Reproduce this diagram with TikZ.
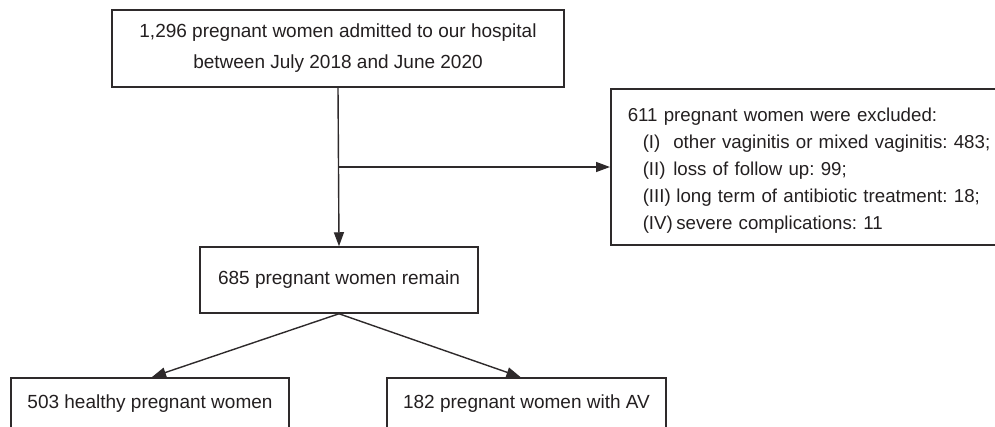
\documentclass[tikz,border=0pt]{standalone}
\usepackage{fontspec}
\setmainfont{Liberation Sans}
\usepackage{tikz}
\usetikzlibrary{arrows.meta,positioning,calc}
\usepackage{xcolor}
\definecolor{inkgray}{HTML}{231F20}
\definecolor{linegray}{HTML}{2E2A2B}
\frenchspacing

\begin{document}
\begin{tikzpicture}[
  x=1pt, y=-1pt,
  >={Triangle[length=14pt,width=10pt]},
  box/.style={draw=linegray, line width=1.5pt, text=inkgray, inner sep=0pt,
              font=\fontsize{19}{27}\selectfont},
  flowarr/.style={->, draw=linegray, line width=1.4pt}
]
  \useasboundingbox (0,0) rectangle (995,426);
  \clip (0,0) rectangle (995,426);

  % --- Boxes ---
  \node[box, minimum width=452pt, minimum height=77pt, align=center,
        font=\fontsize{19}{31}\selectfont] (admit) at (338, 48.5)
       {1,296 pregnant women admitted to our hospital\\between July 2018 and June 2020};
  \node[box, minimum width=278pt, minimum height=66pt] (remain) at (339, 280)
       {685 pregnant women remain};
  \node[box, minimum width=278pt, minimum height=52pt, anchor=north] (healthy) at (150, 377)
       {503 healthy pregnant women};
  \node[box, minimum width=279pt, minimum height=52pt, anchor=north] (avgroup) at (526.5, 377)
       {182 pregnant women with AV};

  % --- Exclusion box (runs past the right edge) ---
  \node[box, anchor=west, minimum height=156pt, inner xsep=17pt,
        text width=480pt, align=left, font=\fontsize{18.7}{27}\selectfont] (excl) at (610, 167)
       {\rule{0pt}{20pt}611 pregnant women were excluded:\\
        \hspace*{15pt}\makebox[30.5pt][l]{(I)}other vaginitis or mixed vaginitis: 483;\\
        \hspace*{15pt}\makebox[30.5pt][l]{(II)}loss of follow up: 99;\\
        \hspace*{15pt}\makebox[30.5pt][l]{(III)}\,long term of antibiotic treatment: 18;\\
        \hspace*{15pt}\makebox[30.5pt][l]{(IV)}\,severe complications: 11};

  % --- Connectors ---
  \coordinate (branch) at (admit.south |- excl.west);
  \draw[flowarr] (admit.south) -- (remain.north);
  \draw[flowarr] (branch) -- (excl.west);
  \draw[flowarr] (remain.south) -- ([xshift=2pt]healthy.north);
  \draw[flowarr] (remain.south) -- ([xshift=-6pt]avgroup.north);
\end{tikzpicture}
\end{document}
